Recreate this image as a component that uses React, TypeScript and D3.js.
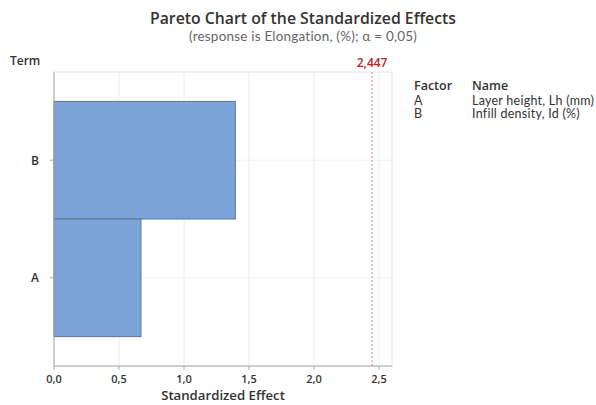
import React from "react";
import * as d3 from "d3";

// Pareto chart data: terms and their standardized effects
const terms = ["B", "A"];
const effects = [1.395, 0.669];
const factorCodes = ["A", "B"];
const factorNames = ["Layer height, Lh (mm)", "Infill density, Id (%)"];
const xTicks = [0, 0.5, 1.0, 1.5, 2.0, 2.5];
const criticalValue = 2.447;

const W = 596;
const H = 405;
const margin = { left: 54, top: 72, right: 204, bottom: 39 };
const BOLD_FONT = "'Open Sans', 'Noto Sans', sans-serif";
const TEXT_FONT = "Lato, 'Open Sans', sans-serif";

export default function App() {
  const x = d3
    .scaleLinear()
    .domain([0, 2.6])
    .range([margin.left, W - margin.right]);
  const y = d3
    .scaleBand<string>()
    .domain(terms)
    .range([margin.top, H - margin.bottom])
    .paddingInner(0)
    .paddingOuter(0.25);

  const fmt = (v: number) => d3.format(".1f")(v).replace(".", ",");
  const x0 = x(0);
  const x1 = x.range()[1];
  const y0 = margin.top;
  const y1 = H - margin.bottom;
  const textColor = "#333";

  return (
    <svg
      width={W}
      height={H}
      style={{ position: "absolute", left: 0, top: 0, background: "#fff" }}
      fontFamily={BOLD_FONT}
    >
      <text x={303} y={23.5} textAnchor="middle" fontSize={15.8} fontWeight={600} fill="#333">
        Pareto Chart of the Standardized Effects
      </text>
      <text
        x={303}
        y={40.5}
        textAnchor="middle"
        fontFamily={TEXT_FONT}
        fontSize={13.5}
        letterSpacing={0.2}
        fill="#666"
      >
        (response is Elongation, (%); α = 0,05)
      </text>

      {/* plot frame */}
      <rect x={x0} y={y0} width={x1 - x0} height={y1 - y0} fill="none" stroke="#e3e3e3" />

      {/* vertical grid */}
      {xTicks.slice(1).map((t) => (
        <line key={t} x1={x(t)} x2={x(t)} y1={y0} y2={y1} stroke="#ececec" />
      ))}
      {/* horizontal grid */}
      {terms.map((t) => {
        const cy = (y(t) as number) + y.bandwidth() / 2;
        return <line key={t} x1={x0} x2={x1} y1={cy} y2={cy} stroke="#f0f0f0" />;
      })}

      {/* bars */}
      {terms.map((t, i) => (
        <rect
          key={t}
          x={x0}
          y={y(t)}
          width={x(effects[i]) - x0}
          height={y.bandwidth()}
          fill="#7ba5d8"
          stroke="#5f7590"
          strokeWidth={1}
        />
      ))}

      {/* critical value reference line */}
      <line
        x1={x(criticalValue)}
        x2={x(criticalValue)}
        y1={y0}
        y2={y1}
        stroke="#e8808a"
        strokeWidth={1}
        strokeDasharray="2,2"
      />
      <text
        x={x(criticalValue)}
        y={67}
        textAnchor="middle"
        fontSize={12}
        fontWeight={600}
        fill="#b8232a"
      >
        {String(criticalValue).replace(".", ",")}
      </text>

      {/* axes */}
      <line x1={x0} x2={x0} y1={y0} y2={y1} stroke="#aaa" />
      <line x1={x0} x2={x1} y1={y1} y2={y1} stroke="#aaa" />

      {xTicks.map((t) => (
        <g key={t}>
          <line x1={x(t)} x2={x(t)} y1={y1} y2={y1 + 4} stroke="#aaa" />
          <text x={x(t)} y={y1 + 17} textAnchor="middle" fontSize={11} fontWeight={600} fill={textColor}>
            {fmt(t)}
          </text>
        </g>
      ))}
      {terms.map((t) => {
        const cy = (y(t) as number) + y.bandwidth() / 2;
        return (
          <g key={t}>
            <line x1={x0 - 4} x2={x0} y1={cy} y2={cy} stroke="#aaa" />
            <text x={39} y={cy + 4.5} textAnchor="end" fontSize={12} fontWeight={600} fill={textColor}>
              {t}
            </text>
          </g>
        );
      })}

      <text x={223} y={400} textAnchor="middle" fontSize={13.2} fontWeight={600} fill={textColor}>
        Standardized Effect
      </text>
      <text x={10} y={65} fontSize={12} fontWeight={600} fill={textColor}>
        Term
      </text>

      {/* factor legend */}
      <text x={414} y={89.5} fontSize={12.5} fontWeight={600} fill={textColor}>Factor</text>
      <text x={472} y={89.5} fontSize={12.5} fontWeight={600} fill={textColor}>Name</text>
      {factorCodes.map((c, i) => (
        <g key={c}>
          <text x={414} y={104.5 + i * 13.6} fontFamily={TEXT_FONT} fontSize={12.5} fill={textColor}>{c}</text>
          <text
            x={472}
            y={104.5 + i * 13.6}
            fontFamily={TEXT_FONT}
            fontSize={12.5}
            letterSpacing={0.25}
            fill={textColor}
          >
            {factorNames[i]}
          </text>
        </g>
      ))}
    </svg>
  );
}
